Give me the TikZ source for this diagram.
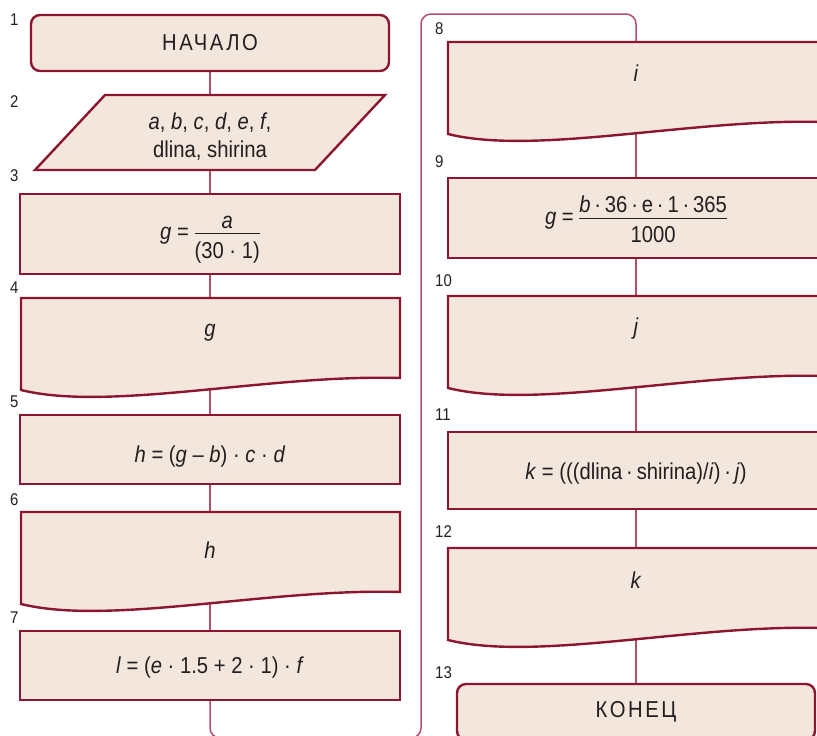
\documentclass[tikz,border=0pt]{standalone}
\usepackage{fontspec}
\setmainfont[FakeStretch=0.88]{Liberation Sans}
\newfontfamily\spacedfont[FakeStretch=0.88,LetterSpace=11]{Liberation Sans}
\usetikzlibrary{backgrounds}
\definecolor{boxfill}{RGB}{243,230,220}
\definecolor{boxline}{RGB}{140,22,48}
\definecolor{conline}{RGB}{178,80,105}
\definecolor{txt}{RGB}{35,31,32}
% #1 numerator, #2 denominator, #3 numerator depth, #4 total extent above/below bar
\newcommand{\hfrac}[4]{$\vcenter{\hbox{\renewcommand\arraystretch{0}\setlength\arrayrulewidth{1pt}%
  \begin{tabular}{@{}c@{}}\rule[-#3]{0pt}{#4}#1\\\hline\rule[-6pt]{0pt}{#4}#2\end{tabular}}}$}
\tikzset{
  shapebox/.style={draw=boxline, fill=boxfill, line width=2.4pt},
  procbox/.style={shapebox, rectangle, inner sep=0pt, text=txt, font=\fontsize{23}{27}\selectfont},
  termbox/.style={procbox, rounded corners=9pt, font=\spacedfont\fontsize{23}{26}\selectfont},
  lbl/.style={anchor=west, inner sep=0pt, text=txt, font=\fontsize{17}{19}\selectfont},
  txtnode/.style={inner sep=0pt, text=txt, font=\fontsize{23}{28}\selectfont, align=center},
  conn/.style={draw=conline, line width=1.5pt},
}
\begin{document}
\begin{tikzpicture}[x=1pt,y=-1pt]
\useasboundingbox (0,0) rectangle (817,736);
\clip (0,0) rectangle (817,736);
% ---------- left column ----------
\node[termbox, minimum width=358pt, minimum height=56pt] (b1) at (210,43) {НАЧАЛО};
\draw[shapebox] (105,95) -- (385,95) -- (315,170) -- (35,170) -- cycle;
\node[txtnode] (b2) at (210,137) {\textit{a}, \textit{b}, \textit{c}, \textit{d}, \textit{e}, \textit{f},\\dlina, shirina};
\coordinate (b2n) at (210,95);
\coordinate (b2s) at (210,170);
\node[procbox, minimum width=380pt, minimum height=80pt] (b3) at (210,234) {};
\node[txtnode] (t3) at (210,233)
  {\textit{g} = \hfrac{\textit{a}}{(30 · 1)}{4pt}{31pt}};
\draw[shapebox] (21,298) -- (400,298) -- (400,378) .. controls (269,374) and (110,412) .. (21,390) -- cycle;
\node[txtnode] (b4) at (210,333) {\textit{g}};
\coordinate (b4n) at (210,298);
\coordinate (b4s) at (210,390);
\node[procbox, minimum width=380pt, minimum height=69pt] (b5) at (210,449.5) {};
\node[txtnode] (t5) at (210,457)
  {\textit{h} = (\textit{g} – \textit{b}) · \textit{c} · \textit{d}};
\draw[shapebox] (21,512) -- (400,512) -- (400,592) .. controls (269,588) and (110,626) .. (21,604) -- cycle;
\node[txtnode] (b6) at (210,550) {\textit{h}};
\coordinate (b6n) at (210,512);
\coordinate (b6s) at (210,604);
\node[procbox, minimum width=380pt, minimum height=69pt] (b7) at (210,665.5) {};
\node[txtnode] (t7) at (210,668)
  {\textit{l} = (\textit{e} · 1.5 + 2 · 1) · \textit{f}};
% ---------- right column ----------
\draw[shapebox] (448,42) -- (824,42) -- (824,122) .. controls (694,118) and (536,156) .. (448,134) -- cycle;
\node[txtnode] (b8) at (636,73) {\textit{i}};
\coordinate (b8n) at (636,42);
\coordinate (b8s) at (636,128);
\node[procbox, minimum width=376pt, minimum height=80pt] (b9) at (636,218) {};
\node[txtnode] (t9) at (636,218)
  {\textit{g} = \hfrac{\textit{b}\,·\,36\,·\,e\,·\,1\,·\,365}{1000}{5pt}{30pt}};
\draw[shapebox] (448,296) -- (824,296) -- (824,376) .. controls (694,372) and (536,410) .. (448,388) -- cycle;
\node[txtnode] (b10) at (636,329) {\textit{j}};
\coordinate (b10n) at (636,296);
\coordinate (b10s) at (636,382);
\node[procbox, minimum width=376pt, minimum height=77pt] (b11) at (636,470.5) {};
\node[txtnode] (t11) at (636,474)
  {\textit{k} = (((dlina\,·\,shirina)/\textit{i})\,·\,\textit{j})};
\draw[shapebox] (448,548) -- (824,548) -- (824,628) .. controls (694,624) and (536,662) .. (448,640) -- cycle;
\node[txtnode] (b12) at (636,580) {\textit{k}};
\coordinate (b12n) at (636,548);
\coordinate (b12s) at (636,634);
\node[termbox, minimum width=358pt, minimum height=56pt] (b13) at (636,712) {КОНЕЦ};
% ---------- labels ----------
\node[lbl] (l1) at (10,20) {1};
\node[lbl] (l2) at (10,102) {2};
\node[lbl] (l3) at (10,176) {3};
\node[lbl] (l4) at (10,288) {4};
\node[lbl] (l5) at (10,402) {5};
\node[lbl] (l6) at (10,500) {6};
\node[lbl] (l7) at (10,618) {7};
\node[lbl] (l8) at (435,29) {8};
\node[lbl] (l9) at (435,162) {9};
\node[lbl] (l10) at (435,281) {10};
\node[lbl] (l11) at (435,415) {11};
\node[lbl] (l12) at (435,532) {12};
\node[lbl] (l13) at (435,673) {13};
% ---------- connectors ----------
\coordinate (loopA) at (210,738);
\coordinate (loopB) at (421,738);
\coordinate (loopC) at (421,14);
\coordinate (loopD) at (636,14);
\begin{pgfonlayer}{background}
\draw[conn] (b1.south) -- (b2n);
\draw[conn] (b2s) -- (b3.north);
\draw[conn] (b3.south) -- (b4n);
\draw[conn] (b4s) -- (b5.north);
\draw[conn] (b5.south) -- (b6n);
\draw[conn] (b6s) -- (b7.north);
\draw[conn, rounded corners=10pt] (b7.south) -- (loopA) -- (loopB) -- (loopC) -- (loopD) -- (b8n);
\draw[conn] (b8s) -- (b9.north);
\draw[conn] (b9.south) -- (b10n);
\draw[conn] (b10s) -- (b11.north);
\draw[conn] (b11.south) -- (b12n);
\draw[conn] (b12s) -- (b13.north);
\end{pgfonlayer}
\end{tikzpicture}
\end{document}
